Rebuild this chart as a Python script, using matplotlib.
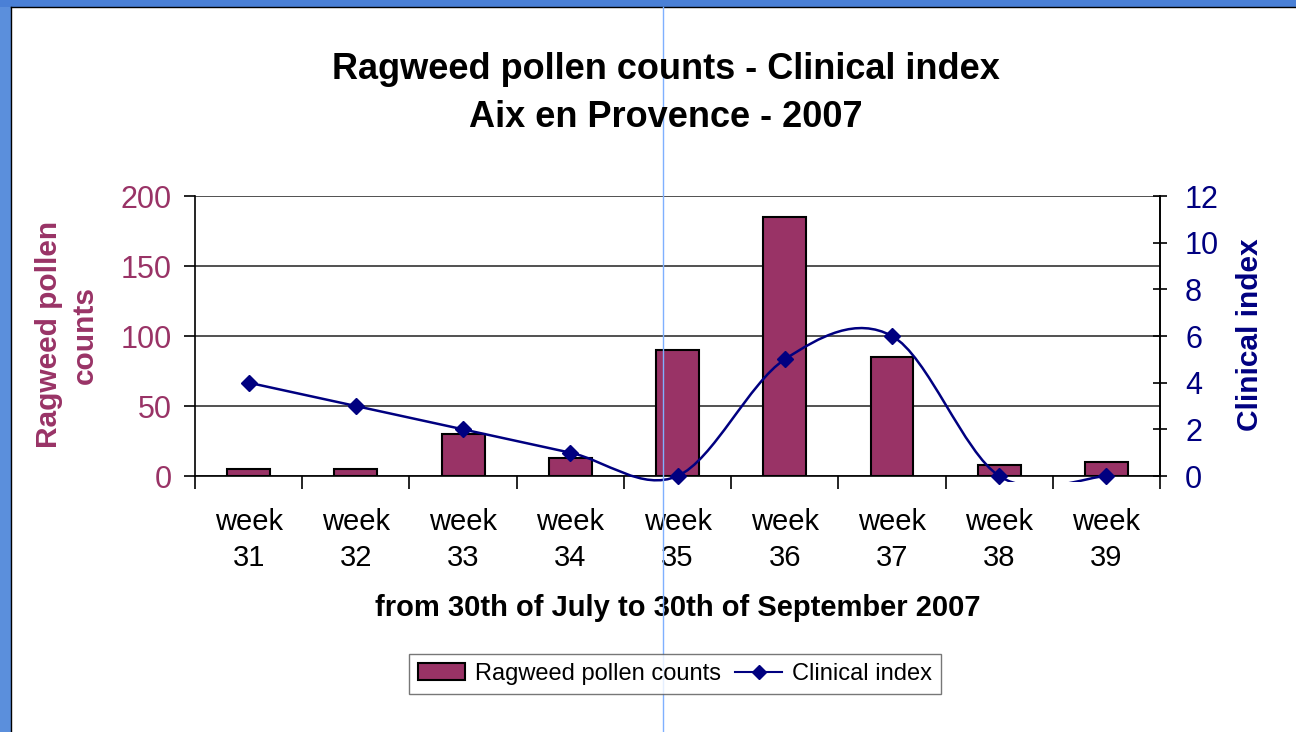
import matplotlib

matplotlib.use("Agg")
import matplotlib.pyplot as plt
import numpy as np
from matplotlib.lines import Line2D
from matplotlib.patches import PathPatch, Rectangle
from matplotlib.path import Path

plt.rcParams["font.family"] = ["Liberation Sans", "DejaVu Sans"]

# --- data -----------------------------------------------------------------------
weeks = ["week\n31", "week\n32", "week\n33", "week\n34", "week\n35",
         "week\n36", "week\n37", "week\n38", "week\n39"]
pollen = [5, 5, 30, 13, 90, 185, 85, 8, 10]
clinical = [4, 3, 2, 1, 0, 5, 6, 0, 0]

BAR = "#993366"
NAVY = "#000080"


def smooth_path(xs, ys):
    """Excel-style smoothed line: cubic Bezier through each point (Catmull-Rom, /6)."""
    pts = np.column_stack([xs, ys]).astype(float)
    verts, codes = [pts[0]], [Path.MOVETO]
    n = len(pts)
    for i in range(n - 1):
        p0 = pts[max(i - 1, 0)]
        p1, p2 = pts[i], pts[i + 1]
        p3 = pts[min(i + 2, n - 1)]
        verts += [p1 + (p2 - p0) / 6, p2 - (p3 - p1) / 6, p2]
        codes += [Path.CURVE4] * 3
    return Path(verts, codes)


fig = plt.figure(figsize=(12.96, 7.32), dpi=100)
ax = fig.add_axes([0.1505, 0.3497, 0.7446, 0.3825])
x = np.arange(len(weeks))

ax.bar(x, pollen, width=0.4, color=BAR, edgecolor="black", linewidth=1.5, zorder=2)
ax.set_xlim(-0.5, len(weeks) - 0.5)
ax.set_ylim(0, 200)
ax.set_yticks(np.arange(0, 201, 50))
ax.yaxis.grid(True, color="#222222", linewidth=1.1)
ax.set_axisbelow(True)
ax.tick_params(axis="y", color="black", labelcolor=BAR, labelsize=22, length=8,
               width=1.2, pad=9)
ax.set_xticks(np.arange(-0.5, len(weeks), 1))
ax.set_xticklabels([])
ax.set_xticks(x, minor=True)
ax.set_xticklabels(weeks, minor=True, fontsize=21, linespacing=1.37)
ax.tick_params(axis="x", which="major", length=9, width=1.2)
ax.tick_params(axis="x", which="minor", length=0, pad=23)
for s in ("left", "bottom", "right"):
    ax.spines[s].set_linewidth(1.2)
ax.spines["top"].set_visible(False)
ax.set_ylabel("Ragweed pollen\ncounts", color=BAR, fontsize=21.5, fontweight="bold",
              linespacing=1.36, va="center")
ax.yaxis.set_label_coords(-0.1330, 0.504)
ax.set_xlabel("from 30th of July to 30th of September 2007", fontsize=21,
              fontweight="bold", labelpad=16)

ax2 = ax.twinx()
ax2.set_ylim(0, 12)
ax2.set_yticks(np.arange(0, 13, 2))
ax2.tick_params(axis="y", direction="inout", length=10, width=1.2, labelsize=22,
                labelcolor=NAVY, pad=13)
for s in ax2.spines.values():
    s.set_visible(False)
ax2.spines["right"].set_visible(True)
ax2.spines["right"].set_linewidth(1.2)
curve = PathPatch(smooth_path(x, clinical), fill=False, edgecolor=NAVY,
                  linewidth=1.8, zorder=3)
ax2.add_patch(curve)
clip = Rectangle((0, -0.02), 1, 1.04, transform=ax2.transAxes, facecolor="none",
                 edgecolor="none")
curve.set_clip_path(clip)
ax2.plot(x, clinical, linestyle="none", marker="D", markersize=8, color=NAVY, zorder=4,
         clip_on=False)
ax2.set_ylabel("Clinical index", color=NAVY, fontsize=21.5, fontweight="bold", va="center")
ax2.yaxis.set_label_coords(1.0933, 0.504)

fig.text(0.5135, 0.872, "Ragweed pollen counts - Clinical index\nAix en Provence - 2007",
         ha="center", va="center", fontsize=26, fontweight="bold", linespacing=1.5)

handles = [Rectangle((0, 0), 1, 1, facecolor=BAR, edgecolor="black", linewidth=1.5),
           Line2D([], [], color=NAVY, marker="D", markersize=7, linewidth=1.5)]
fig.legend(handles, ["Ragweed pollen counts", "Clinical index"], loc="center",
           bbox_to_anchor=(0.5208, 0.0792), ncol=2, fontsize=17, frameon=True,
           fancybox=False, edgecolor="#555555", handlelength=2.0, columnspacing=0.6,
           handletextpad=0.4, borderpad=0.4)

# screenshot frame: blue slide border and guide line
fig.add_artist(Rectangle((0, 0), 11 / 1296, 1, transform=fig.transFigure,
                         facecolor="#5b8fdc", edgecolor="none"))
fig.add_artist(Rectangle((0, 1 - 7 / 732), 1, 7 / 732, transform=fig.transFigure,
                         facecolor="#4a80d6", edgecolor="none"))
fig.add_artist(Line2D([11 / 1296, 11 / 1296], [0, 1 - 7 / 732], transform=fig.transFigure,
                      color="black", linewidth=1))
fig.add_artist(Line2D([11 / 1296, 1], [1 - 7 / 732, 1 - 7 / 732], transform=fig.transFigure,
                      color="black", linewidth=1))
fig.add_artist(Line2D([663 / 1296, 663 / 1296], [0, 1 - 7 / 732], transform=fig.transFigure,
                      color="#7fb0ff", linewidth=1))

fig.savefig("out.png", dpi=100)
